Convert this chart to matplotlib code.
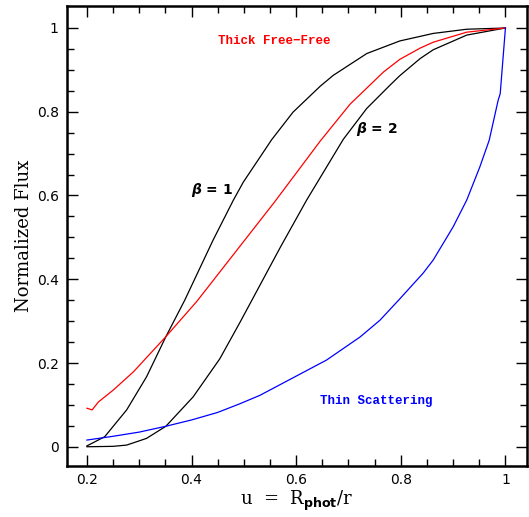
import numpy as np
import matplotlib
matplotlib.use("Agg")
from matplotlib import pyplot as plt

# curves
u_beta1 = [0.2, 0.234, 0.276, 0.314, 0.351, 0.387, 0.441, 0.48, 0.499, 0.537, 0.553,
           0.594, 0.646, 0.671, 0.735, 0.798, 0.862, 0.926, 1.0]
f_beta1 = [0.002, 0.024, 0.088, 0.167, 0.263, 0.35, 0.493, 0.589, 0.632, 0.703, 0.733,
           0.799, 0.861, 0.887, 0.939, 0.969, 0.987, 0.997, 1.0]

u_beta2 = [0.2, 0.25, 0.276, 0.314, 0.351, 0.403, 0.454, 0.493, 0.57, 0.62, 0.69,
           0.735, 0.779, 0.798, 0.837, 0.862, 0.926, 1.0]
f_beta2 = [0.0, 0.001, 0.004, 0.02, 0.049, 0.119, 0.21, 0.298, 0.477, 0.589, 0.734,
           0.808, 0.863, 0.886, 0.927, 0.948, 0.983, 1.0]

u_ff = [0.2, 0.21, 0.222, 0.25, 0.289, 0.351, 0.41, 0.559, 0.646, 0.703, 0.767, 0.798,
        0.837, 0.862, 0.926, 1.0]
f_ff = [0.092, 0.088, 0.107, 0.135, 0.179, 0.263, 0.347, 0.585, 0.73, 0.818, 0.895, 0.925,
        0.952, 0.966, 0.99, 1.0]

u_thin = [0.2, 0.25, 0.3, 0.351, 0.4, 0.45, 0.493, 0.531, 0.658, 0.722, 0.76, 0.798,
          0.843, 0.862, 0.9, 0.926, 0.951, 0.969, 0.986, 0.99, 1.0]
f_thin = [0.016, 0.025, 0.035, 0.049, 0.064, 0.082, 0.103, 0.123, 0.207, 0.262, 0.302, 0.353,
          0.415, 0.446, 0.525, 0.589, 0.668, 0.732, 0.827, 0.843, 1.0]

fig = plt.figure(figsize=(5.29, 5.17), dpi=100)
ax = fig.add_axes([0.1267, 0.0986, 0.8693, 0.8894])

ax.plot(u_beta1, f_beta1, color="black", lw=0.9)
ax.plot(u_beta2, f_beta2, color="black", lw=0.9)
ax.plot(u_ff, f_ff, color="red", lw=0.9)
ax.plot(u_thin, f_thin, color="blue", lw=0.9)

ax.set_xlim(0.162, 1.041)
ax.set_ylim(-0.046, 1.052)

ax.set_xticks(np.arange(0.2, 1.01, 0.2))
ax.set_xticks(np.arange(0.2, 1.01, 0.05), minor=True)
ax.set_yticks(np.arange(0.0, 1.01, 0.2))
ax.set_yticks(np.arange(0.0, 1.01, 0.05), minor=True)
ax.set_xticklabels(["0.2", "0.4", "0.6", "0.8", "1"])
ax.set_yticklabels(["0", "0.2", "0.4", "0.6", "0.8", "1"])
ax.tick_params(which="both", direction="in", top=True, right=True, width=1.0,
               labelsize=10)
ax.tick_params(axis="x", pad=5)
ax.tick_params(axis="y", pad=6)
ax.tick_params(which="major", length=8)
ax.tick_params(which="minor", length=5)
for s in ax.spines.values():
    s.set_linewidth(1.8)

ax.set_ylabel("Normalized Flux", family="DejaVu Serif", fontsize=13, labelpad=3)
ax.set_xlabel(r"u  =  R$_{\mathbf{phot}}$/r", family="DejaVu Serif", fontsize=13,
              labelpad=1)

ax.text(0.559, 0.968, "Thick Free\u2212Free", color="red", ha="center", va="center",
        family="Liberation Mono", fontsize=9, fontweight="bold")
ax.text(0.753, 0.109, "Thin Scattering", color="blue", ha="center", va="center",
        family="Liberation Mono", fontsize=9, fontweight="bold")
ax.text(0.439, 0.612, r"$\boldsymbol{\beta}$ = 1", ha="center", va="center",
        fontsize=10, fontweight="bold")
ax.text(0.754, 0.758, r"$\boldsymbol{\beta}$ = 2", ha="center", va="center",
        fontsize=10, fontweight="bold")

fig.savefig("out.png", dpi=100)
